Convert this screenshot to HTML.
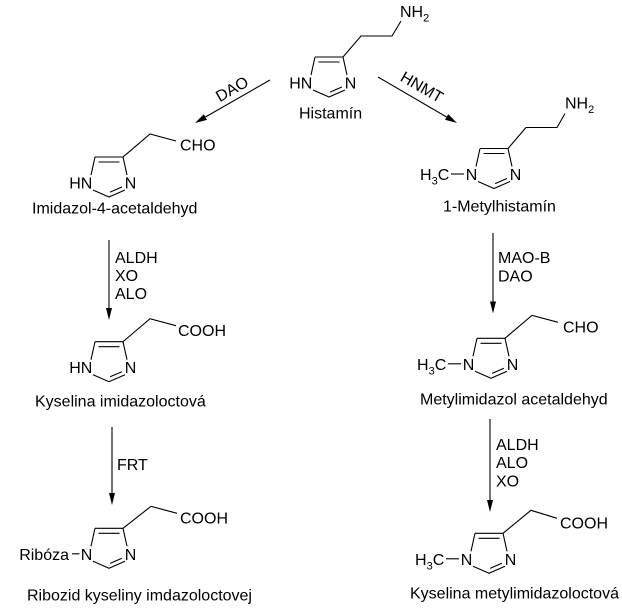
<!DOCTYPE html>
<html>
<head>
<meta charset="utf-8">
<style>
  html, body { margin:0; padding:0; background:#fff; }
  svg { display:block; }
  text { font-family:"Liberation Sans", Arial, sans-serif; font-size:16px; fill:#000; }
  .b { stroke:#000; stroke-width:1.1; fill:none; }
</style>
</head>
<body>
<svg width="622" height="614" viewBox="0 0 622 614" xmlns="http://www.w3.org/2000/svg">

<!-- ===== A. Histamine X=315 Y=57 ===== -->
<g transform="translate(315,57)">
  <path class="b" d="M0,0 L28,0 M3.5,5 L24.5,5 M0,0 L-4,18 M28,0 L32,18 M-2,33 L14,40 L30,33 M15.1,35.1 L26.9,30"/>
  <text x="-2.7" y="31.5" text-anchor="end">HN</text>
  <text x="35.5" y="31.5" text-anchor="middle">N</text>
  <path class="b" d="M28,0 L46,-21 L77,-21 L86,-36"/>
  <text x="85" y="-40">NH<tspan font-size="11" dy="4.5">2</tspan></text>
</g>
<text x="299" y="118.5">Histamín</text>

<!-- DAO arrow -->
<path class="b" d="M270,80 L205.4,117"/>
<polygon points="195,123 207,119.9 203.8,114.2" fill="#000"/>
<text transform="translate(232,89) rotate(-30)" x="0" y="5.5" text-anchor="middle">DAO</text>

<!-- HNMT arrow -->
<path class="b" d="M378,77 L446.6,117"/>
<polygon points="457,123 445,119.8 448.3,114.1" fill="#000"/>
<text transform="translate(422,87) rotate(30)" x="0" y="5.5" text-anchor="middle">HNMT</text>

<!-- ===== B. Imidazol-4-acetaldehyd X=95 Y=157 ===== -->
<g transform="translate(95,157)">
  <path class="b" d="M0,0 L28,0 M3.5,5 L24.5,5 M0,0 L-4,18 M28,0 L32,18 M-2,33 L14,40 L30,33 M15.1,35.1 L26.9,30"/>
  <text x="-2.7" y="31.5" text-anchor="end">HN</text>
  <text x="35.5" y="31.5" text-anchor="middle">N</text>
  <path class="b" d="M28,0 L55,-23 L81,-16"/>
  <text x="85" y="-6.5">CHO</text>
</g>
<text x="32" y="213.5">Imidazol-4-acetaldehyd</text>

<!-- ===== C. 1-Metylhistamin X=480 Y=148.5 ===== -->
<g transform="translate(480,148.5)">
  <path class="b" d="M0,0 L28,0 M3.5,5 L24.5,5 M0,0 L-4,18 M28,0 L32,18 M-2,33 L14,40 L30,33 M15.1,35.1 L26.9,30"/>
  <text x="-8.5" y="31.5" text-anchor="middle">N</text>
  <text x="35.5" y="31.5" text-anchor="middle">N</text>
  <text x="-60" y="31.5">H<tspan font-size="11" dy="4.5">3</tspan><tspan dy="-4.5">C</tspan></text>
  <path class="b" d="M-29,25.5 L-16,25.5"/>
  <path class="b" d="M28,0 L46,-21 L77,-21 L85,-35"/>
  <text x="85" y="-40">NH<tspan font-size="11" dy="4.5">2</tspan></text>
</g>
<text x="443" y="211.5">1-Metylhistamín</text>

<!-- Left arrow 1 -->
<path class="b" d="M109,240 L109,309"/>
<polygon points="109,320 106,308 112,308" fill="#000"/>
<text x="115" y="263">ALDH</text>
<text x="115" y="281">XO</text>
<text x="115" y="299">ALO</text>

<!-- Right arrow 1 -->
<path class="b" d="M493,233 L493,302"/>
<polygon points="493,313.5 490,301.5 496,301.5" fill="#000"/>
<text x="498" y="263">MAO-B</text>
<text x="498" y="281.5">DAO</text>

<!-- ===== D. Kyselina imidazoloctova X=95 Y=341.7 ===== -->
<g transform="translate(95,341.7)">
  <path class="b" d="M0,0 L28,0 M3.5,5 L24.5,5 M0,0 L-4,18 M28,0 L32,18 M-2,33 L14,40 L30,33 M15.1,35.1 L26.9,30"/>
  <text x="-2.7" y="31.5" text-anchor="end">HN</text>
  <text x="35.5" y="31.5" text-anchor="middle">N</text>
  <path class="b" d="M28,0 L55,-23 L81,-16"/>
  <text x="83" y="-5.5">COOH</text>
</g>
<text x="35" y="406.5">Kyselina imidazoloctová</text>

<!-- ===== E. Metylimidazol acetaldehyd X=477 Y=338.3 ===== -->
<g transform="translate(477,338.3)">
  <path class="b" d="M0,0 L28,0 M3.5,5 L24.5,5 M0,0 L-4,18 M28,0 L32,18 M-2,33 L14,40 L30,33 M15.1,35.1 L26.9,30"/>
  <text x="-8.5" y="31.5" text-anchor="middle">N</text>
  <text x="35.5" y="31.5" text-anchor="middle">N</text>
  <text x="-60" y="31.5">H<tspan font-size="11" dy="4.5">3</tspan><tspan dy="-4.5">C</tspan></text>
  <path class="b" d="M-29,25.5 L-16,25.5"/>
  <path class="b" d="M28,0 L55,-23 L81,-16"/>
  <text x="86" y="-6">CHO</text>
</g>
<text x="420" y="404.5">Metylimidazol acetaldehyd</text>

<!-- Left arrow 2 (FRT) -->
<path class="b" d="M112,427 L112,494"/>
<polygon points="112,505 109,493 115,493" fill="#000"/>
<text x="117" y="470">FRT</text>

<!-- Right arrow 2 -->
<path class="b" d="M490,419 L490,501"/>
<polygon points="490,512 487,500 493,500" fill="#000"/>
<text x="496" y="450">ALDH</text>
<text x="496" y="468">ALO</text>
<text x="496" y="486.5">XO</text>

<!-- ===== F. Ribozid X=95 Y=528.3 ===== -->
<g transform="translate(95,528.3)">
  <path class="b" d="M0,0 L28,0 M3.5,5 L24.5,5 M0,0 L-4,18 M28,0 L32,18 M-2,33 L14,40 L30,33 M15.1,35.1 L26.9,30"/>
  <text x="-8.5" y="31.5" text-anchor="middle">N</text>
  <text x="35.5" y="31.5" text-anchor="middle">N</text>
  <text x="-26" y="31.5" text-anchor="end">Ribóza</text>
  <path class="b" d="M-23,25.5 L-15.5,25.5"/>
  <path class="b" d="M28,0 L56,-22 L82,-15"/>
  <text x="85" y="-5">COOH</text>
</g>
<text x="27" y="600.5">Ribozid kyseliny imdazoloctovej</text>

<!-- ===== G. Kyselina metylimidazoloctova X=475 Y=533.3 ===== -->
<g transform="translate(475,533.3)">
  <path class="b" d="M0,0 L28,0 M3.5,5 L24.5,5 M0,0 L-4,18 M28,0 L32,18 M-2,33 L14,40 L30,33 M15.1,35.1 L26.9,30"/>
  <text x="-8.5" y="31.5" text-anchor="middle">N</text>
  <text x="35.5" y="31.5" text-anchor="middle">N</text>
  <text x="-60" y="31.5">H<tspan font-size="11" dy="4.5">3</tspan><tspan dy="-4.5">C</tspan></text>
  <path class="b" d="M-29,25.5 L-16,25.5"/>
  <path class="b" d="M28,0 L56,-23 L82,-15"/>
  <text x="85" y="-5">COOH</text>
</g>
<text x="410" y="598.5">Kyselina metylimidazoloctová</text>

</svg>
</body>
</html>
